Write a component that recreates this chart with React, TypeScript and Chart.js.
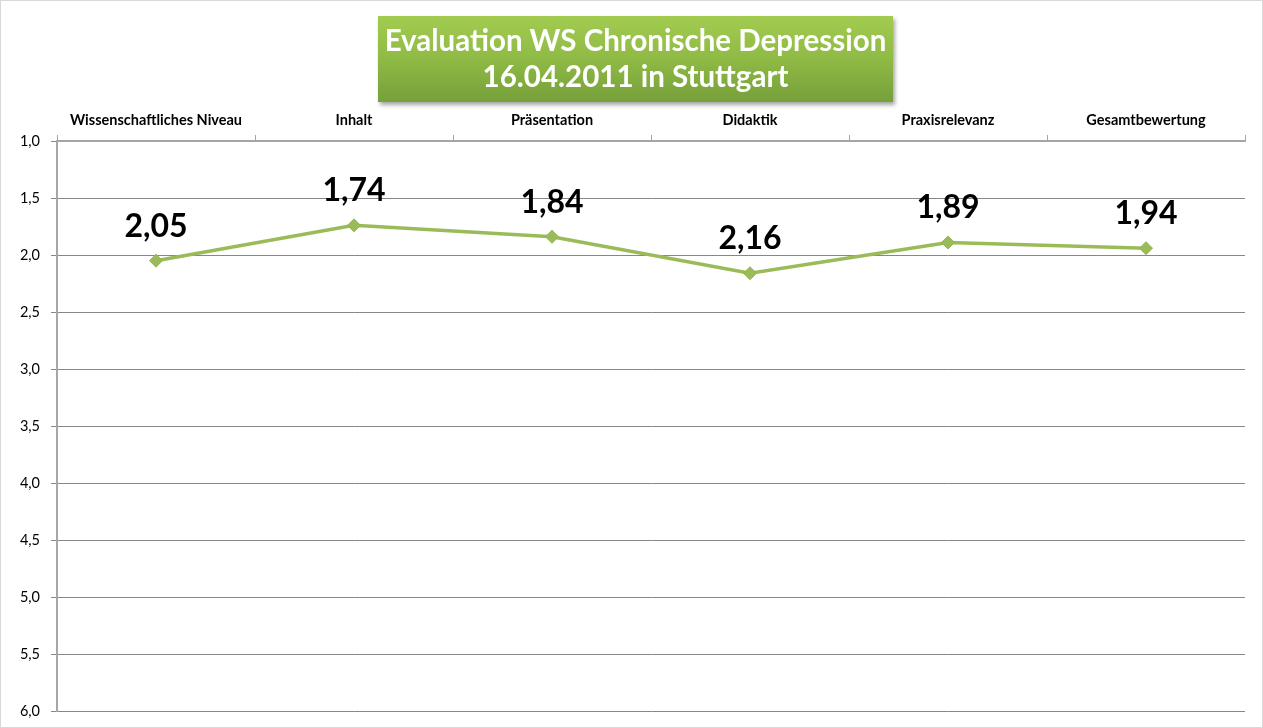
import React, { useEffect, useRef } from "react";
import { Chart, registerables } from "chart.js";

Chart.register(...registerables);

const categories = [
  "Wissenschaftliches Niveau",
  "Inhalt",
  "Präsentation",
  "Didaktik",
  "Praxisrelevanz",
  "Gesamtbewertung",
];
const scores = [2.05, 1.74, 1.84, 2.16, 1.89, 1.94];
const titleLines = ["Evaluation WS Chronische Depression", "16.04.2011 in Stuttgart"];

const fmt = (v: number, d: number) => v.toFixed(d).replace(".", ",");

const valueLabels = {
  id: "valueLabels",
  afterDatasetsDraw(chart: any) {
    const ctx = chart.ctx;
    const meta = chart.getDatasetMeta(0);
    ctx.save();
    ctx.font = "bold 32px Lato, 'Open Sans', sans-serif";
    ctx.fillStyle = "#000";
    ctx.textAlign = "center";
    ctx.textBaseline = "alphabetic";
    meta.data.forEach((pt: any, i: number) => {
      ctx.fillText(fmt(scores[i], 2), pt.x, pt.y - 24);
    });
    ctx.restore();
  },
};

export default function App() {
  const ref = useRef<HTMLCanvasElement>(null);
  useEffect(() => {
    document.body.style.margin = "0";
    const chart = new Chart(ref.current!, {
      type: "line",
      data: {
        labels: categories,
        datasets: [
          {
            data: scores,
            borderColor: "#9bbb59",
            backgroundColor: "#9bbb59",
            borderWidth: 3.5,
            pointStyle: "rectRot",
            pointRadius: 6.5,
            pointBorderWidth: 1,
            pointBorderColor: "#93b453",
            tension: 0,
          },
        ],
      },
      options: {
        animation: false,
        responsive: false,
        layout: { padding: { left: 0, right: 17, top: 0, bottom: 16 } },
        plugins: { legend: { display: false }, title: { display: false }, tooltip: { enabled: false } },
        scales: {
          x: {
            position: "top",
            offset: true,
            grid: {
              offset: true,
              drawOnChartArea: false,
              drawTicks: true,
              tickLength: 6,
              color: "#a6a6a6",
            },
            border: { color: "#a6a6a6", width: 2 },
            ticks: {
              color: "#000",
              padding: 6,
              maxRotation: 0,
              autoSkip: false,
              font: { family: "Lato, 'Open Sans', sans-serif", weight: "bold", size: 14.5 },
            },
            afterFit: (s: any) => {
              s.height = 140;
            },
          },
          y: {
            reverse: true,
            min: 1,
            max: 6,
            afterFit: (s: any) => {
              s.width = 56;
              s.paddingTop = 0;
              s.paddingBottom = 0;
            },
            ticks: {
              stepSize: 0.5,
              color: "#000",
              padding: 11,
              font: { family: "Lato, 'Open Sans', sans-serif", size: 14.5 },
              callback: (v: any) => fmt(Number(v), 1),
            },
            grid: { color: "#878787", tickLength: 6, lineWidth: 1 },
            border: { color: "#a6a6a6", width: 2 },
          },
        },
      },
      plugins: [valueLabels],
    } as any);
    return () => chart.destroy();
  }, []);

  return (
    <div
      style={{
        position: "relative",
        width: 1263,
        height: 728,
        boxSizing: "border-box",
        border: "1px solid #d9d9d9",
        background: "#fff",
        overflow: "hidden",
      }}
    >
      <canvas ref={ref} width={1261} height={726} style={{ display: "block" }} />
      <div
        style={{
          position: "absolute",
          left: 377,
          top: 15,
          width: 515,
          height: 86,
          background: "linear-gradient(to bottom, #a2cb50 0%, #8fba45 50%, #76a03a 100%)",
          boxShadow: "2px 3px 4px rgba(0,0,0,0.35)",
          color: "#fff",
          fontFamily: "Lato, 'Open Sans', sans-serif",
          fontWeight: "bold",
          fontSize: 29.5,
          lineHeight: "36px",
          textAlign: "center",
          paddingTop: 6,
          boxSizing: "border-box",
          whiteSpace: "nowrap",
        }}
      >
        {titleLines.map((t) => (
          <div key={t}>{t}</div>
        ))}
      </div>
    </div>
  );
}
